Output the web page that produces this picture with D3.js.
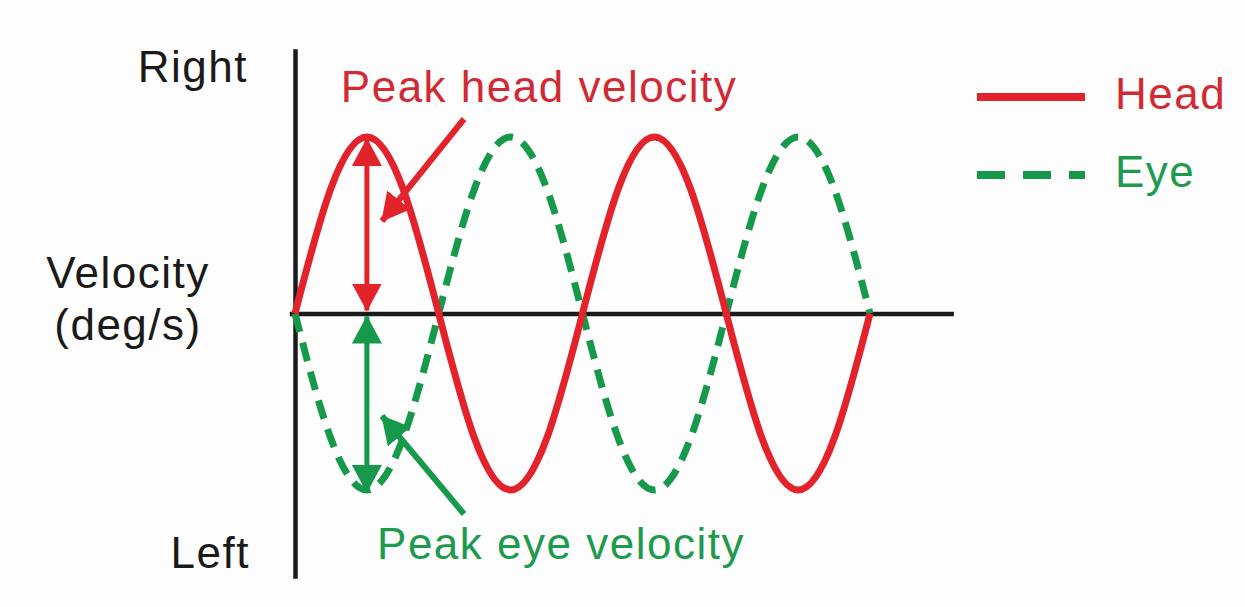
<!DOCTYPE html>
<html>
<head>
<meta charset="utf-8">
<script src="https://cdn.jsdelivr.net/npm/d3@7"></script>
<style>
  body { margin: 0; background: #fdfdfd; }
  text { font-family: "Liberation Sans", Arial, sans-serif; }
</style>
</head>
<body>
<div id="chart"></div>
<script>
// Time in cycles (sampled every 1/8 cycle), velocity in units of peak
const times = [0, 0.125, 0.25, 0.375, 0.5, 0.625, 0.75, 0.875, 1,
               1.125, 1.25, 1.375, 1.5, 1.625, 1.75, 1.875, 2];
const headVelocity = [0, 0.71, 1, 0.71, 0, -0.71, -1, -0.71, 0,
                      0.71, 1, 0.71, 0, -0.71, -1, -0.71, 0];
const eyeVelocity = [0, -0.71, -1, -0.71, 0, 0.71, 1, 0.71, 0,
                     -0.71, -1, -0.71, 0, 0.71, 1, 0.71, 0];
const seriesNames = ["Head", "Eye"];
const peakTime = 0.25;

const red = "#e3232c";
const green = "#17994b";

const width = 1245, height = 607;

const svg = d3.select("#chart").append("svg")
    .attr("width", width)
    .attr("height", height);

// Scales
const x = d3.scaleLinear().domain([0, 2]).range([295, 870]);
const y = d3.scaleLinear().domain([-1, 1]).range([490, 137]);

// Arrow markers
const defs = svg.append("defs");
function addMarker(id, color) {
    defs.append("marker")
        .attr("id", id)
        .attr("markerUnits", "userSpaceOnUse")
        .attr("viewBox", "0 -15 28 30")
        .attr("refX", 27)
        .attr("refY", 0)
        .attr("markerWidth", 28)
        .attr("markerHeight", 30)
        .attr("orient", "auto-start-reverse")
      .append("path")
        .attr("d", "M0,-15L28,0L0,15Z")
        .attr("fill", color);
}
addMarker("arrowRed", red);
addMarker("arrowGreen", green);

// Axes (no ticks, just the lines)
const yAxisScale = d3.scaleLinear().domain([-1.5, 1.5]).range([y(-1.5), y(1.5)]);
svg.append("g")
    .attr("transform", "translate(" + x(0) + ",0)")
    .call(d3.axisLeft(yAxisScale).tickValues([]).tickSizeOuter(0))
    .select(".domain")
    .attr("stroke", "#1a1a1a")
    .attr("stroke-width", 4.5);

const xAxisScale = d3.scaleLinear().domain([-0.02, 2.29]).range([x(-0.02), x(2.29)]);
svg.append("g")
    .attr("transform", "translate(0," + y(0) + ")")
    .call(d3.axisBottom(xAxisScale).tickValues([]).tickSizeOuter(0))
    .select(".domain")
    .attr("stroke", "#1a1a1a")
    .attr("stroke-width", 4.5);

// Curves
const line = d3.line()
    .x(d => x(d.t))
    .y(d => y(d.v))
    .curve(d3.curveNatural);

const headData = times.map((t, i) => ({ t: t, v: headVelocity[i] }));
const eyeData = times.map((t, i) => ({ t: t, v: eyeVelocity[i] }));

svg.append("path")
    .datum(eyeData)
    .attr("d", line)
    .attr("fill", "none")
    .attr("stroke", green)
    .attr("stroke-width", 7)
    .attr("stroke-dasharray", "19,11");

svg.append("path")
    .datum(headData)
    .attr("d", line)
    .attr("fill", "none")
    .attr("stroke", red)
    .attr("stroke-width", 7);

// Peak double arrows
svg.append("line")
    .attr("x1", x(peakTime)).attr("x2", x(peakTime))
    .attr("y1", y(0) - 3).attr("y2", y(1) + 2)
    .attr("stroke", red)
    .attr("stroke-width", 5)
    .attr("marker-start", "url(#arrowRed)")
    .attr("marker-end", "url(#arrowRed)");

svg.append("line")
    .attr("x1", x(peakTime)).attr("x2", x(peakTime))
    .attr("y1", y(0) + 3).attr("y2", y(-1) + 2)
    .attr("stroke", green)
    .attr("stroke-width", 5)
    .attr("marker-start", "url(#arrowGreen)")
    .attr("marker-end", "url(#arrowGreen)");

// Pointer arrows from labels
svg.append("line")
    .attr("x1", 464).attr("y1", 119)
    .attr("x2", 382).attr("y2", 221)
    .attr("stroke", red)
    .attr("stroke-width", 6)
    .attr("marker-end", "url(#arrowRed)");

svg.append("line")
    .attr("x1", 464).attr("y1", 514)
    .attr("x2", 382).attr("y2", 416)
    .attr("stroke", green)
    .attr("stroke-width", 6)
    .attr("marker-end", "url(#arrowGreen)");

// Text labels
const fontSize = 44;
function label(txt, px, py, anchor, color) {
    svg.append("text")
        .attr("x", px)
        .attr("y", py)
        .attr("text-anchor", anchor)
        .attr("fill", color)
        .style("font-size", fontSize + "px")
        .style("letter-spacing", "1.5px")
        .text(txt);
}
label("Right", 248, 82, "end", "#1a1a1a");
label("Left", 250, 568, "end", "#1a1a1a");
label("Velocity", 128, 288, "middle", "#1a1a1a");
label("(deg/s)", 128, 340, "middle", "#1a1a1a");
label("Peak head velocity", 539, 102, "middle", "#d22a35");
label("Peak eye velocity", 561, 559, "middle", "#1e9a4e");

// Legend
const legend = svg.append("g").attr("class", "legend");
const legendY = [97, 175];
const legendColors = [red, green];
const legendDash = [null, "28,18"];
const legendText = ["#d22a35", "#1e9a4e"];
seriesNames.forEach((name, i) => {
    legend.append("line")
        .attr("x1", 977).attr("x2", 1085)
        .attr("y1", legendY[i]).attr("y2", legendY[i])
        .attr("stroke", legendColors[i])
        .attr("stroke-width", 8)
        .attr("stroke-dasharray", legendDash[i]);
    legend.append("text")
        .attr("x", 1115)
        .attr("y", legendY[i] + 12)
        .attr("fill", legendText[i])
        .style("font-size", fontSize + "px")
        .style("letter-spacing", "1.5px")
        .text(name);
});
</script>
</body>
</html>
